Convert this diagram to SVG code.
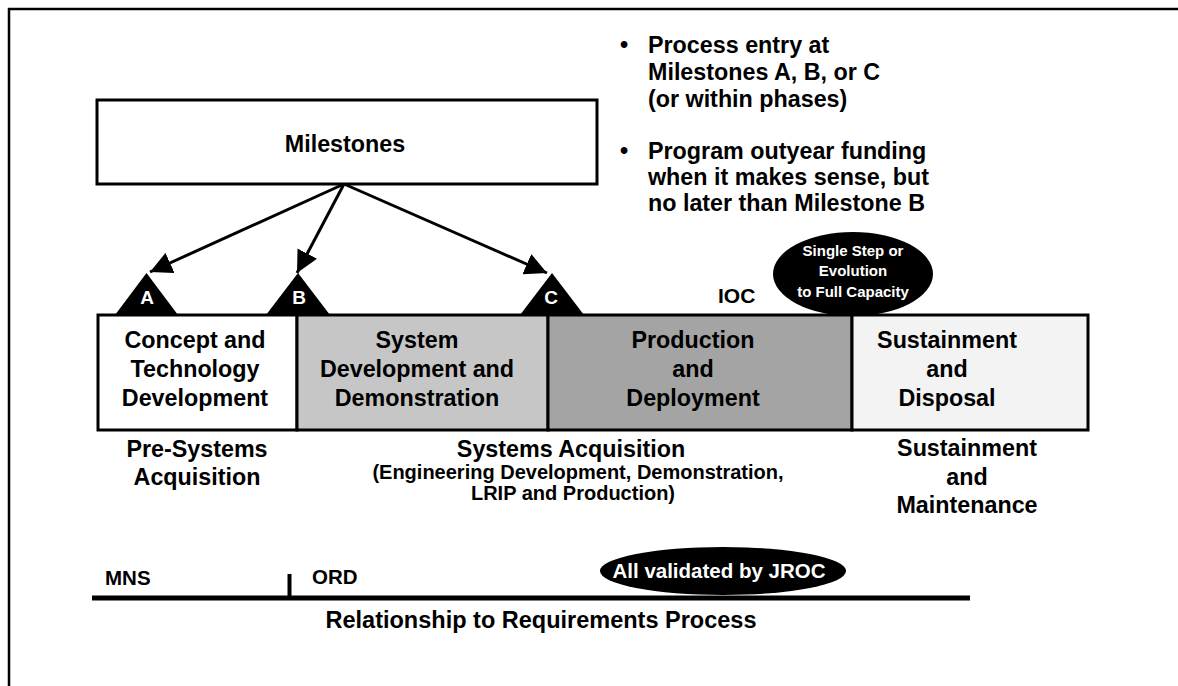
<svg xmlns="http://www.w3.org/2000/svg" width="1178" height="686" viewBox="0 0 1178 686">
<style>
text{font-family:"Liberation Sans",Arial,Helvetica,sans-serif;font-weight:bold;fill:#000}
.c{text-anchor:middle}
.w{fill:#fff}
.t23{font-size:23.3px}
.t21{font-size:21px}
.t20{font-size:20.5px}
.t15{font-size:15px}
.box{stroke:#000;stroke-width:3}
.conn{stroke:#000;stroke-width:3;fill:none}
</style>
<defs>
<marker id="ah" markerWidth="24" markerHeight="22" refX="22" refY="11" orient="auto" markerUnits="userSpaceOnUse">
<path d="M0,0 L22,11 L0,22 Z" fill="#000"/>
</marker>
</defs>
<rect width="1178" height="686" fill="#fff"/>
<path d="M9,690 L9,9 L1180,9" fill="none" stroke="#000" stroke-width="2.5"/>

<g id="milestones">
<rect class="box" x="97" y="100" width="500" height="84" fill="#fff" stroke-width="2.5"/>
<text class="c t23" x="345" y="152">Milestones</text>
</g>

<g id="notes">
<text class="t23" x="620" y="53">•</text>
<text class="t23" x="648" y="53">Process entry at</text>
<text class="t23" x="648" y="80">Milestones A, B, or C</text>
<text class="t23" x="648" y="107">(or within phases)</text>
<text class="t23" x="620" y="159">•</text>
<text class="t23" x="648" y="159">Program outyear funding</text>
<text class="t23" x="648" y="185">when it makes sense, but</text>
<text class="t23" x="648" y="211">no later than Milestone B</text>
</g>

<g id="phase-concept">
<rect class="box" x="98" y="315" width="199" height="115" fill="#fff"/>
<text class="c t23" x="195" y="348">Concept and</text>
<text class="c t23" x="195" y="377">Technology</text>
<text class="c t23" x="195" y="406">Development</text>
</g>
<g id="phase-sdd">
<rect class="box" x="297" y="315" width="251" height="115" fill="#c6c6c6"/>
<text class="c t23" x="417" y="348">System</text>
<text class="c t23" x="417" y="377">Development and</text>
<text class="c t23" x="417" y="406">Demonstration</text>
</g>
<g id="phase-production">
<rect class="box" x="548" y="315" width="304" height="115" fill="#a4a4a4"/>
<text class="c t23" x="693" y="348">Production</text>
<text class="c t23" x="693" y="377">and</text>
<text class="c t23" x="693" y="406">Deployment</text>
</g>
<g id="phase-sustainment">
<rect class="box" x="852" y="315" width="236" height="115" fill="#f3f3f3"/>
<text class="c t23" x="947" y="348">Sustainment</text>
<text class="c t23" x="947" y="377">and</text>
<text class="c t23" x="947" y="406">Disposal</text>
</g>

<g id="milestone-A">
<path d="M146.5,273 L178,315 L115,315 Z" fill="#000"/>
<text class="c w" x="147" y="304" style="font-size:19px">A</text>
</g>
<g id="milestone-B">
<path d="M298,273 L330,315 L266,315 Z" fill="#000"/>
<text class="c w" x="299" y="304" style="font-size:19px">B</text>
</g>
<g id="milestone-C">
<path d="M552,273 L584,315 L520,315 Z" fill="#000"/>
<text class="c w" x="551" y="304" style="font-size:19px">C</text>
</g>

<g id="ioc">
<text class="t21" x="718" y="303">IOC</text>
</g>
<g id="single-step">
<ellipse cx="853" cy="274" rx="80" ry="42" fill="#000"/>
<text class="c w t15" x="853" y="256">Single Step or</text>
<text class="c w t15" x="853" y="276">Evolution</text>
<text class="c w t15" x="853" y="297">to Full Capacity</text>
</g>

<g id="label-pre">
<text class="c t23" x="197" y="457">Pre-Systems</text>
<text class="c t23" x="197" y="485">Acquisition</text>
</g>
<g id="label-acq">
<text class="c t23" x="571" y="457">Systems Acquisition</text>
<text class="c" x="578" y="479" style="font-size:20px">(Engineering Development, Demonstration,</text>
<text class="c" x="573" y="500" style="font-size:20px">LRIP and Production)</text>
</g>
<g id="label-sust">
<text class="c t23" x="967" y="456">Sustainment</text>
<text class="c t23" x="967" y="485">and</text>
<text class="c t23" x="967" y="513">Maintenance</text>
</g>

<g id="requirements">
<line x1="92" y1="598" x2="970" y2="598" stroke="#000" stroke-width="5"/>
<line x1="289.5" y1="574" x2="289.5" y2="598" stroke="#000" stroke-width="4"/>
<text class="t20" x="105" y="585">MNS</text>
<text class="t20" x="312" y="584">ORD</text>
<ellipse cx="723" cy="571" rx="123" ry="24" fill="#000"/>
<text class="c w t20" x="719" y="578">All validated by JROC</text>
<text class="c" x="541" y="628" style="font-size:23.5px">Relationship to Requirements Process</text>
</g>

<g id="connectors">
<line class="conn" x1="344" y1="184" x2="150" y2="272" marker-end="url(#ah)"/>
<line class="conn" x1="344" y1="184" x2="297" y2="273" marker-end="url(#ah)"/>
<line class="conn" x1="344" y1="184" x2="547" y2="273" marker-end="url(#ah)"/>
</g>
</svg>
